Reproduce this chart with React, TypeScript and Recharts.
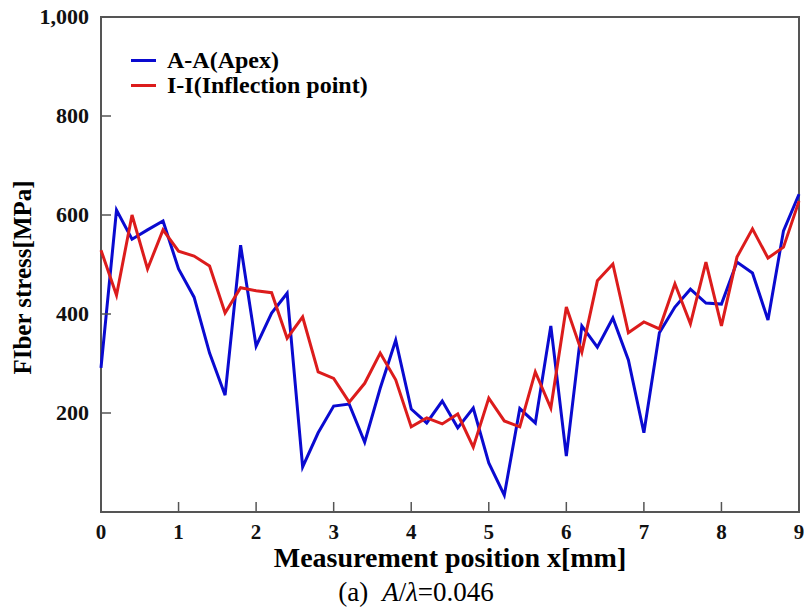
import { LineChart, Line, XAxis, YAxis, Legend, ReferenceArea } from "recharts";

const positions = [
  0, 0.2, 0.4, 0.6, 0.8, 1, 1.2, 1.4, 1.6, 1.8, 2, 2.2, 2.4, 2.6, 2.8, 3, 3.2, 3.4, 3.6, 3.8, 4, 4.2, 4.4,
  4.6, 4.8, 5, 5.2, 5.4, 5.6, 5.8, 6, 6.2, 6.4, 6.6, 6.8, 7, 7.2, 7.4, 7.6, 7.8, 8, 8.2, 8.4, 8.6, 8.8, 9,
];

const apexStress = [
  291, 610, 551, 570, 588, 491, 434, 321, 236, 539, 335, 402, 442, 91, 160, 214, 218, 141, 250, 347, 208, 180,
  224, 170, 210, 99, 34, 209, 180, 376, 113, 376, 333, 392, 307, 160, 362, 414, 450, 422, 420, 505, 483, 388,
  568, 642,
];

const inflectionStress = [
  529, 438, 600, 491, 570, 527, 517, 497, 402, 453, 447, 443, 351, 394, 283, 270, 222, 260, 321, 267, 172, 190,
  178, 198, 131, 230, 184, 172, 283, 210, 414, 323, 467, 501, 362, 384, 370, 461, 380, 505, 376, 515, 572, 513,
  535, 628,
];

const xTicks = [0, 1, 2, 3, 4, 5, 6, 7, 8, 9];
const yTicks = [200, 400, 600, 800, 1000];

const data = positions.map((x, i) => ({ x, apex: apexStress[i], inflection: inflectionStress[i] }));

const FONT = "'Liberation Serif', 'Times New Roman', serif";
const FRAME = "#555";

function XTick({ x, y, payload }: any) {
  return (
    <g>
      <line x1={x} y1={y} x2={x} y2={y - 10} stroke={FRAME} strokeWidth={1.5} />
      <text x={x} y={y + 27} textAnchor="middle" fontFamily={FONT} fontWeight="bold" fontSize={21} fill="#111">
        {payload.value}
      </text>
    </g>
  );
}

function YTick({ x, y, payload }: any) {
  return (
    <g>
      <line x1={x} y1={y} x2={x + 10} y2={y} stroke={FRAME} strokeWidth={1.5} />
      <text x={x - 12} y={y + 7} textAnchor="end" fontFamily={FONT} fontWeight="bold" fontSize={22} fill="#111">
        {Number(payload.value).toLocaleString("en-US")}
      </text>
    </g>
  );
}

function XTitle({ viewBox }: any) {
  const cx = viewBox.x + viewBox.width / 2;
  const y = viewBox.y;
  return (
    <g>
      <text x={cx} y={y + 55} textAnchor="middle" fontFamily={FONT} fontWeight="bold" fontSize={28} fill="#000">
        Measurement position x[mm]
      </text>
      <text x={cx - 34} y={y + 89} textAnchor="middle" fontFamily={FONT} fontSize={27} fill="#000">
        (a)
        <tspan dx={14} fontStyle="italic">A</tspan>/<tspan fontStyle="italic">λ</tspan>=0.046
      </text>
    </g>
  );
}

function YTitle({ viewBox }: any) {
  const cy = viewBox.y + viewBox.height / 2;
  const x = 31;
  return (
    <text
      x={x}
      y={cy + 13}
      transform={`rotate(-90, ${x}, ${cy + 13})`}
      textAnchor="middle"
      fontFamily={FONT}
      fontWeight="bold"
      fontSize={25}
      fill="#000"
    >
      FIber stress[MPa]
    </text>
  );
}

function LegendBox({ payload }: any) {
  return (
    <div style={{ fontFamily: FONT }}>
      {(payload || []).map((item: any) => (
        <div key={item.value} style={{ display: "flex", alignItems: "center", height: 25 }}>
          <span style={{ width: 25, height: 3, background: item.color, marginRight: 11 }} />
          <span style={{ fontWeight: "bold", fontSize: 24, lineHeight: "25px", color: "#000" }}>{item.value}</span>
        </div>
      ))}
    </div>
  );
}

export default function App() {
  return (
    <div style={{ position: "absolute", left: 0, top: 0, width: 804, height: 609, background: "#fff" }}>
      <LineChart width={804} height={609} data={data} margin={{ top: 17, right: 5, left: 0, bottom: 67 }}>
        <XAxis
          dataKey="x"
          type="number"
          domain={[0, 9]}
          ticks={xTicks}
          interval={0}
          axisLine={false}
          tickLine={false}
          tickSize={0}
          tickMargin={0}
          height={30}
          tick={<XTick />}
          label={<XTitle />}
        />
        <YAxis
          type="number"
          domain={[0, 1000]}
          ticks={yTicks}
          interval={0}
          axisLine={false}
          tickLine={false}
          tickSize={0}
          tickMargin={0}
          width={101}
          tick={<YTick />}
          label={<YTitle />}
        />
        <ReferenceArea x1={0} x2={9} y1={0} y2={1000} fill="none" stroke={FRAME} strokeWidth={2} />
        <Legend
          layout="horizontal"
          verticalAlign="middle"
          align="center"
          content={<LegendBox />}
          wrapperStyle={{ position: "absolute", top: 48, left: 131, width: "auto", height: "auto" }}
        />
        <Line
          type="linear"
          dataKey="apex"
          name="A-A(Apex)"
          stroke="#0a0ad0"
          strokeWidth={3}
          dot={false}
          isAnimationActive={false}
        />
        <Line
          type="linear"
          dataKey="inflection"
          name="I-I(Inflection point)"
          stroke="#dc1c1c"
          strokeWidth={3}
          dot={false}
          isAnimationActive={false}
        />
      </LineChart>
    </div>
  );
}
